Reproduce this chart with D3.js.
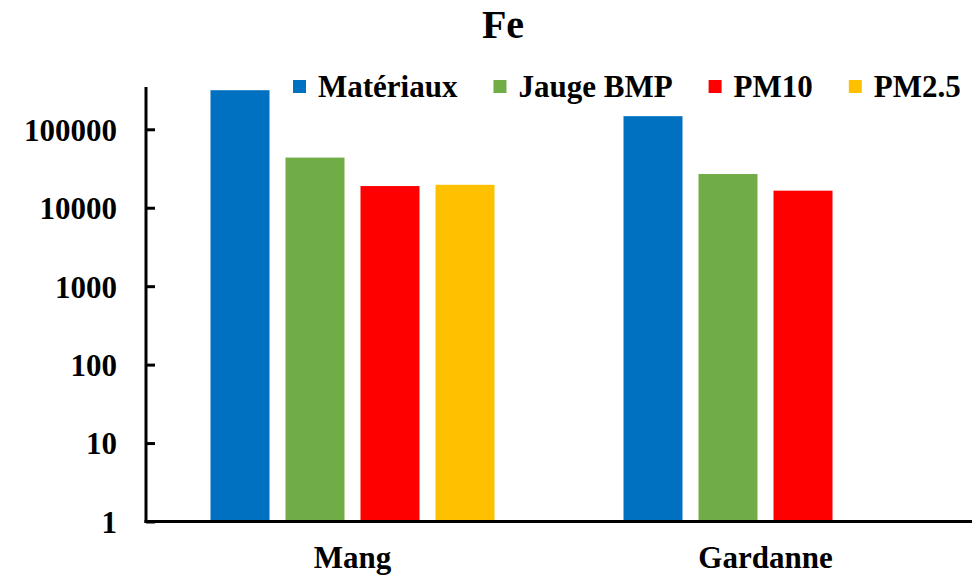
<!DOCTYPE html>
<html><head><meta charset="utf-8">
<script src="https://cdn.jsdelivr.net/npm/d3@7"></script>
<style>
html,body{margin:0;padding:0;background:#fff;}
svg text{font-family:"Liberation Serif","Times New Roman",serif;font-weight:bold;fill:#000;}
</style></head>
<body><svg id="c" width="980" height="579"></svg>
<script>
const title = "Fe";
const categories = ["Mang", "Gardanne"];
const series = ["Matériaux", "Jauge BMP", "PM10", "PM2.5"];
const colors = ["#0070C0", "#70AD47", "#FF0000", "#FFC000"];
const valuesMateriaux = [315000, 147000];
const valuesJauge = [43600, 26900];
const valuesPM10 = [18900, 16500];
const valuesPM25 = [19600, null];
const tickValues = [1, 10, 100, 1000, 10000, 100000];
const yMin = 1, yMax = 346000;

const seriesValues = [valuesMateriaux, valuesJauge, valuesPM10, valuesPM25];

(function () {
const svg = d3.select("#c");
const mLeft = 146, mRight = 972, mBottom = 521.5, mTop = 87;

const x = d3.scaleBand().domain(categories).range([mLeft, mRight]).padding(0);
const groupW = 284;
const xs = d3.scaleBand().domain(series).range([0, groupW]).paddingInner(16/75).paddingOuter(0);
const y = d3.scaleLog().domain([yMin, yMax]).range([mBottom, mTop]);

// bars
series.forEach((s, si) => {
  const data = categories.map((c, ci) => ({c, v: seriesValues[si][ci]})).filter(d => d.v != null);
  svg.append("g").selectAll("rect").data(data).join("rect")
    .attr("x", d => x(d.c) + (x.bandwidth() - groupW) / 2 + xs(s))
    .attr("width", xs.bandwidth())
    .attr("y", d => y(d.v))
    .attr("height", d => y(yMin) - y(d.v))
    .attr("fill", colors[si]);
});

// y axis
const yAxis = svg.append("g").attr("transform", `translate(${mLeft},0)`)
  .call(d3.axisRight(y).tickValues(tickValues).tickFormat(d3.format("d")).tickSize(9).tickSizeOuter(0));
yAxis.select(".domain").remove();
yAxis.selectAll(".tick line").attr("stroke", "#000").attr("stroke-width", 3);
yAxis.selectAll(".tick text").attr("x", -29).attr("text-anchor", "end")
  .attr("dy", "0.35em").style("font-size", "31px");
svg.append("line").attr("x1", mLeft).attr("x2", mLeft).attr("y1", y(yMax)).attr("y2", mBottom + 1.5)
  .attr("stroke", "#000").attr("stroke-width", 3);

// x axis
svg.append("line").attr("x1", mLeft - 1.5).attr("x2", mRight).attr("y1", mBottom).attr("y2", mBottom)
  .attr("stroke", "#000").attr("stroke-width", 3);
svg.append("g").selectAll("text").data(categories).join("text")
  .attr("x", d => x(d) + x.bandwidth() / 2)
  .attr("y", 568)
  .attr("text-anchor", "middle")
  .style("font-size", "31px")
  .text(d => d);

// title
svg.append("text").attr("x", 503).attr("y", 38).attr("text-anchor", "middle")
  .style("font-size", "40px").text(title);

// legend
let lx = 293;
const lg = svg.append("g");
series.forEach((s, i) => {
  lg.append("rect").attr("x", lx).attr("y", 80).attr("width", 13).attr("height", 13).attr("fill", colors[i]);
  const t = lg.append("text").attr("x", lx + 25).attr("y", 97).style("font-size", "31px").text(s);
  lx = lx + 25 + t.node().getComputedTextLength() + 36;
});
})();
</script></body></html>
